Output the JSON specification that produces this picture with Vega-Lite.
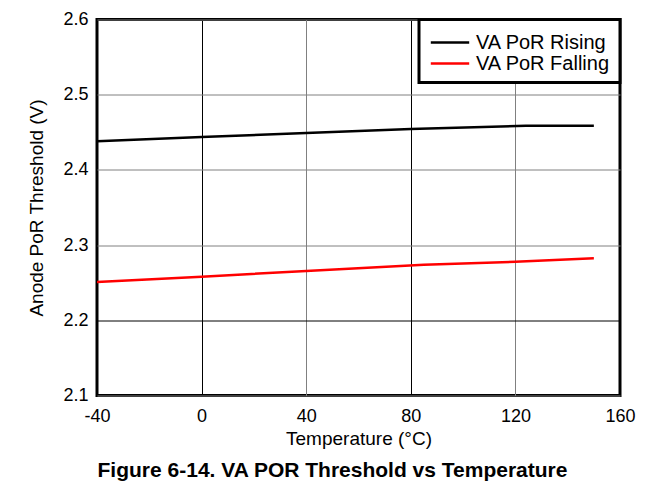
{
  "$schema": "https://vega.github.io/schema/vega-lite/v6.json",
  "width": 523,
  "height": 376,
  "autosize": {"type": "none"},
  "padding": {"left": 97, "top": 19.5, "right": 44, "bottom": 93.5},
  "background": "white",
  "config": {
    "font": "Liberation Sans",
    "view": {"stroke": "black", "strokeWidth": 3}
  },
  "title": {
    "text": "Figure 6-14. VA POR Threshold vs Temperature",
    "orient": "bottom",
    "anchor": "middle",
    "dx": -26,
    "offset": 11,
    "font": "Liberation Sans",
    "fontSize": 21,
    "fontWeight": "bold",
    "color": "black"
  },
  "data": {
    "values": [
      {"temp": -40, "v": 2.438, "series": "VA PoR Rising"},
      {"temp": 0, "v": 2.4437, "series": "VA PoR Rising"},
      {"temp": 40, "v": 2.4491, "series": "VA PoR Rising"},
      {"temp": 80, "v": 2.4544, "series": "VA PoR Rising"},
      {"temp": 124, "v": 2.4588, "series": "VA PoR Rising"},
      {"temp": 150, "v": 2.4588, "series": "VA PoR Rising"},
      {"temp": -40, "v": 2.2509, "series": "VA PoR Falling"},
      {"temp": 0, "v": 2.258, "series": "VA PoR Falling"},
      {"temp": 40, "v": 2.2656, "series": "VA PoR Falling"},
      {"temp": 85, "v": 2.2738, "series": "VA PoR Falling"},
      {"temp": 120, "v": 2.2779, "series": "VA PoR Falling"},
      {"temp": 150, "v": 2.2824, "series": "VA PoR Falling"}
    ]
  },
  "mark": {"type": "line", "strokeWidth": 2.5, "clip": true},
  "encoding": {
    "x": {
      "field": "temp",
      "type": "quantitative",
      "scale": {"domain": [-40, 160], "nice": false, "zero": false},
      "axis": {
        "values": [-40, 0, 40, 80, 120, 160],
        "labelExpr": "datum.value < 0 ? '-' + abs(datum.value) : '' + datum.value",
        "title": "Temperature (°C)",
        "titleFont": "Liberation Sans",
        "titleFontSize": 19,
        "titleFontWeight": "normal",
        "titleColor": "black",
        "titlePadding": 4,
        "labelFont": "Liberation Sans",
        "labelFontSize": 18,
        "labelColor": "black",
        "labelPadding": 12,
        "labelFlush": false,
        "labelOverlap": false,
        "ticks": false,
        "domain": false,
        "grid": true,
        "gridColor": {"condition": {"test": "datum.value == 40 || datum.value == 120", "value": "#808080"}, "value": "black"},
        "gridWidth": 1,
        "gridOpacity": 1
      }
    },
    "y": {
      "field": "v",
      "type": "quantitative",
      "scale": {"domain": [2.1, 2.6], "nice": false, "zero": false},
      "axis": {
        "values": [2.1, 2.2, 2.3, 2.4, 2.5, 2.6],
        "format": ".1f",
        "title": "Anode PoR Threshold (V)",
        "titleFont": "Liberation Sans",
        "titleFontSize": 19,
        "titleFontWeight": "normal",
        "titleColor": "black",
        "titlePadding": 16,
        "labelFont": "Liberation Sans",
        "labelFontSize": 18,
        "labelColor": "black",
        "labelPadding": 9,
        "labelFlush": false,
        "labelOverlap": false,
        "ticks": false,
        "domain": false,
        "grid": true,
        "gridColor": {"condition": {"test": "abs(datum.value - 2.2) < 0.001", "value": "black"}, "value": "#808080"},
        "gridWidth": 1,
        "gridOpacity": 1
      }
    },
    "color": {
      "field": "series",
      "type": "nominal",
      "scale": {"domain": ["VA PoR Rising", "VA PoR Falling"], "range": ["black", "#ff0000"]},
      "legend": {
        "title": " ",
        "titleFontSize": 2,
        "titlePadding": 2,
        "orient": "top-right",
        "offset": 0,
        "fillColor": "white",
        "strokeColor": "black",
        "padding": 9,
        "symbolType": "M-3.2,0H3.2",
        "symbolSize": 144,
        "symbolOffset": 12,
        "symbolStrokeWidth": 2.5,
        "labelFont": "Liberation Sans",
        "labelFontSize": 20,
        "labelColor": "black",
        "labelOffset": 16,
        "rowPadding": 1,
        "encode": {"legend": {"update": {"strokeWidth": {"value": 3}}}}
      }
    }
  }
}
